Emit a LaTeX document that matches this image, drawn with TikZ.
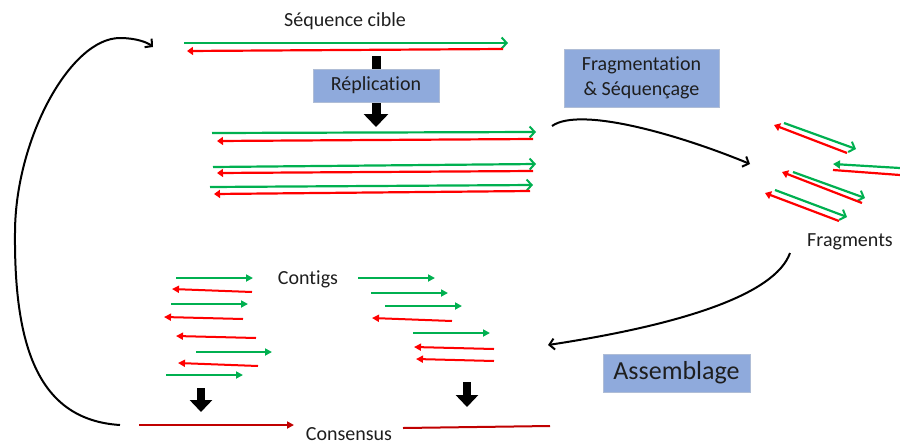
\documentclass[tikz,border=0pt]{standalone}
\usepackage{fontspec}
\setmainfont[Ligatures=NoCommon]{Carlito}
\usetikzlibrary{arrows.meta}
\definecolor{strandgreen}{HTML}{00B050}
\definecolor{strandred}{HTML}{FF0000}
\definecolor{consred}{HTML}{C00000}
\definecolor{stepblue}{HTML}{8FAADC}
\definecolor{labelgray}{HTML}{1E1E1E}
\tikzset{
  fwd/.style={strandgreen, line width=2.2pt, -{Straight Barb[length=5pt,width=11pt,line width=2pt]}},
  rev/.style={strandred, line width=2.2pt, -{Triangle[length=6pt,width=8pt]}},
  cfwd/.style={strandgreen, line width=2pt, -{Triangle[length=7pt,width=7pt]}},
  crev/.style={strandred, line width=2pt, -{Triangle[length=7pt,width=7pt]}},
  curved/.style={black, line width=2pt, -{Straight Barb[length=5pt,width=11pt,line width=2pt]}},
  down/.style={black, line width=9pt, -{Triangle[length=13pt,width=24pt]}},
  stepbox/.style={fill=stepblue, draw=stepblue!85!black!60, text=labelgray, inner sep=0pt,
    font=\fontsize{20}{25}\selectfont, align=center},
  lbl/.style={text=labelgray, font=\fontsize{20}{24}\selectfont}
}

\begin{document}
\begin{tikzpicture}[x=1pt,y=-1pt]
\useasboundingbox (0,0) rectangle (900,445);

% target sequence
\node[lbl] (cible) at (345,21) {Séquence cible};
\draw[fwd] (184,43) -- (508,43);
\draw[rev] (503,49) -- (187,51);

% replication
\draw[down] (376,56) -- (376,127);
\node[stepbox, minimum width=126pt, minimum height=33pt] (repl) at (376,85.5) {Réplication};

% copies
\draw[fwd] (212,133) -- (536,132);
\draw[rev] (533,139) -- (217,141);
\draw[fwd] (213,167) -- (536,164);
\draw[rev] (533,171) -- (217,173);
\draw[fwd] (210,187) -- (533,185);
\draw[rev] (530,191) -- (214,194);

% fragmentation
\node[stepbox, minimum width=155pt, minimum height=58pt] (frag) at (641.5,78) {Fragmentation\\ \& Séquençage};
\coordinate (copies out) at (552,126);
\coordinate (frag in) at (750,164);
\draw[curved] (copies out) .. controls (580,106) and (680,135) .. (frag in);

% fragments
\draw[fwd] (784,123) -- (856,149);
\draw[rev] (847,153) -- (774,125);
\draw[fwd, -{Triangle[length=7pt,width=8pt]}] (900,168) -- (833,164);
\draw[strandred, line width=2.2pt] (833,170) -- (900,175);
\draw[fwd] (793,172) -- (865,198);
\draw[rev] (862,203) -- (782,172);
\draw[fwd] (775,190) -- (847,217);
\draw[rev] (839,221) -- (765,193);
\node[lbl] (fragments) at (850,242) {Fragments};

% assembly
\coordinate (fragments out) at (790,253);
\coordinate (contigs in) at (548,345);
\draw[curved] (fragments out) .. controls (775,295) and (680,325) .. (contigs in);
\node[stepbox, minimum width=147pt, minimum height=38pt, font=\fontsize{26}{30}\selectfont] (assemblage) at (676.5,373) {Assemblage};

% contigs
\node[lbl] (contigs) at (308,279) {Contigs};
\draw[cfwd] (176,278) -- (253,278);
\draw[crev] (252,292) -- (172,289);
\draw[cfwd] (171,304) -- (248,304);
\draw[crev] (243,319) -- (164,317);
\draw[crev] (256,338) -- (176,336);
\draw[cfwd] (196,352) -- (272,352);
\draw[crev] (258,366) -- (178,363);
\draw[cfwd] (166,375) -- (243,375);

\draw[cfwd] (358,278) -- (435,278);
\draw[cfwd] (371,293) -- (448,293);
\draw[cfwd] (385,306) -- (462,306);
\draw[crev] (452,321) -- (372,318);
\draw[cfwd] (413,333) -- (490,333);
\draw[crev] (494,349) -- (414,347);
\draw[crev] (494,361) -- (416,359);

% consensus
\draw[down, line width=8pt, -{Triangle[length=12pt,width=22pt]}] (201,388) -- (201,412);
\draw[down, line width=8pt, -{Triangle[length=12pt,width=22pt]}] (467,382) -- (467,407);
\draw[consred, line width=2pt, -{Triangle[length=7pt,width=7pt]}] (139,425) -- (294,425);
\draw[consred, line width=2pt] (403,428) -- (550,426);
\node[lbl] (consensus) at (349,434.5) {Consensus};

% back to the target
\coordinate (loop start) at (120,425);
\coordinate (loop left) at (15,233);
\coordinate (loop end) at (153,47);
\draw[curved] (loop start) .. controls (40,420) and (14,350) .. (loop left)
  .. controls (15,140) and (70,38) .. (120,38) .. controls (135,38) and (147,42) .. (loop end);
\end{tikzpicture}
\end{document}
